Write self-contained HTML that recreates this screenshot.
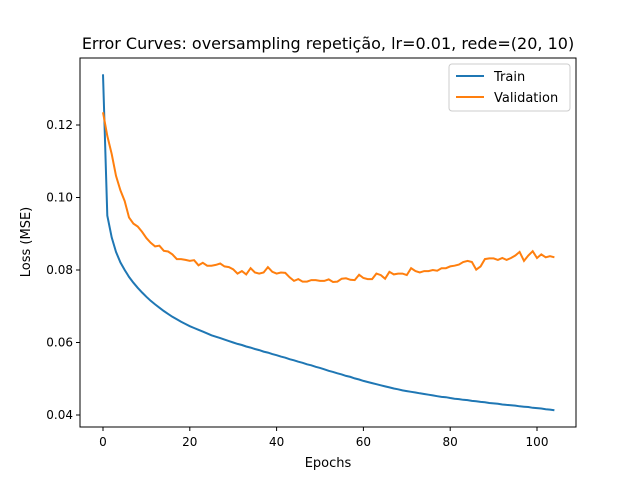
<!DOCTYPE html>
<html><head><meta charset="utf-8"><style>
body{margin:0;background:#fff;}
svg{font-family:"DejaVu Sans","Liberation Sans",sans-serif;}
</style></head><body>
<svg id="chart" width="640" height="480" xmlns="http://www.w3.org/2000/svg">
<rect width="640" height="480" fill="#fff"/>
<text x="328" y="49" text-anchor="middle" font-size="16">Error Curves: oversampling repetição, lr=0.01, rede=(20, 10)</text>
<g id="grid"></g>
<path id="train" fill="none" stroke="#1f77b4" stroke-width="2"/>
<path id="val" fill="none" stroke="#ff7f0e" stroke-width="2"/>
<rect x="80" y="58" width="496" height="369" fill="none" stroke="#000" stroke-width="1"/>
<text x="328" y="467" text-anchor="middle" font-size="13">Epochs</text>
<text transform="translate(30,242) rotate(-90)" text-anchor="middle" font-size="13">Loss (MSE)</text>
<g>
<rect x="449" y="64" width="121" height="47" rx="3" fill="#fff" stroke="#ccc"/>
<line x1="456" y1="76" x2="484" y2="76" stroke="#1f77b4" stroke-width="2"/>
<text x="494" y="81" font-size="13">Train</text>
<line x1="456" y1="97" x2="484" y2="97" stroke="#ff7f0e" stroke-width="2"/>
<text x="494" y="102" font-size="13">Validation</text>
</g>
</svg>
<script>
const xTicks=[0,20,40,60,80,100];
const yTicks=[0.04,0.06,0.08,0.10,0.12];
const yTickLabels=["0.04","0.06","0.08","0.10","0.12"];
const trainLoss=[.134,.095,.0890,.0850,.0821,.0800,.0781,.0765,.0751,.0738,.0726,
.0715,.0705,.0696,.0687,.0679,
.0671,.0664,.0657,.0651,.0645,
.0640,.0635,.0630,.0625,.0620,
.0616,.0612,.0608,.0604,.0600,
.0596,.0593,.0589,.0586,.0582,
.0579,.0575,.0572,.0568,.0565,
.0561,.0558,.0554,.0551,.0547,
.0544,.0540,.0537,.0533,.0530,
.0526,.0522,.0519,.0515,.0512,
.0508,.0505,.0501,.0498,.0494,
.0491,.0488,.0485,.0482,.0479,
.0476,.0473,.0471,.0468,.0466,
.0464,.0462,.0460,.0458,.0456,
.0454,.0452,.0450,.0449,.0447,
.0445,.0444,.0442,.0441,.0439,
.0438,.0436,.0435,.0433,.0432,
.0431,.0429,.0428,.0427,.0426,
.0424,.0423,.0422,.0420,.0419,
.0418,.0416,.0415,.0413];
const valLoss=[.1235,.117,.112,.106,.102,.099,.0945,.0928,.092,.0905,.0888,.0875,.0865,.0867,.0853,.0851,.0843,.0830,.0830,.0828,.0825,.0827,.0813,.0820,.0812,.0812,.0814,.0818,.0810,.0808,.0802,.0790,.0797,.0788,.0805,.0793,.0790,.0793,.0808,.0795,.0790,.0793,.0792,.0780,.0770,.0775,.0768,.0768,.0772,.0772,.0770,.0770,.0774,.0767,.0768,.0776,.0777,.0773,.0772,.0787,.0778,.0775,.0775,.0790,.0786,.0776,.0795,.0788,.0790,.0790,.0786,.0805,.0797,.0793,.0797,.0797,.0800,.0798,.0805,.0805,.0810,.0812,.0815,.0822,.0825,.0822,.0801,.0810,.0830,.0832,.0832,.0828,.0833,.0828,.0833,.0840,.0850,.0825,.0840,.0852,.0833,.0843,.0835,.0838,.0835];
const NS="http://www.w3.org/2000/svg";
function xs(e){return 103+e*4.34;}
function ys(v){return 415-(v-0.04)*3625;}
const g=document.getElementById('grid');
function mk(t,a){const el=document.createElementNS(NS,t);for(const k in a)el.setAttribute(k,a[k]);g.appendChild(el);return el;}
xTicks.forEach(t=>{
 const l=mk('line',{x1:xs(t),x2:xs(t),y1:427,y2:431,stroke:'#000'});
 
 
 const tx=mk('text',{x:xs(t),y:446,'text-anchor':'middle','font-size':'12'});
 tx.textContent=t;
 
 
});
yTicks.forEach((t,i)=>{
 const l=mk('line',{x1:76,x2:80,y1:ys(t),y2:ys(t),stroke:'#000'});
 
 
 const tx=mk('text',{x:73,y:ys(t)+4,'text-anchor':'end','font-size':'12'});
 tx.textContent=yTickLabels[i];
 
 
});
function path(arr){return arr.map((v,i)=>(i?'L':'M')+xs(i).toFixed(1)+','+ys(v).toFixed(1)).join('');}
document.getElementById('train').setAttribute('d',path(trainLoss));
document.getElementById('val').setAttribute('d',path(valLoss));
</script>
</body></html>
